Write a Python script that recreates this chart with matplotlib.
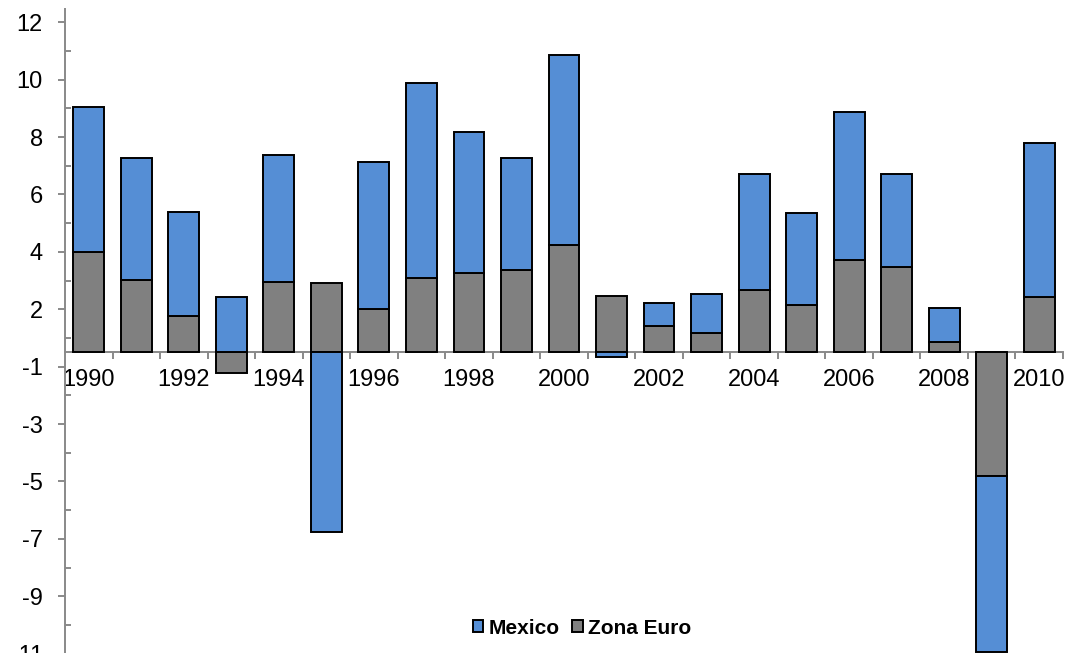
import numpy as np
import matplotlib.pyplot as plt

plt.rcParams["font.family"] = ["Liberation Sans", "DejaVu Sans"]

# GDP growth (%), Mexico and euro area, 1990-2010
years = list(range(1990, 2011))
euro = [3.50, 2.53, 1.28, -0.73, 2.44, 2.40, 1.52, 2.58, 2.77, 2.88, 3.75,
        1.96, 0.91, 0.68, 2.17, 1.66, 3.23, 2.98, 0.37, -4.30, 1.93]
mexico = [5.06, 4.23, 3.62, 1.94, 4.43, -6.25, 5.12, 6.79, 4.92, 3.88, 6.61,
          -0.15, 0.81, 1.35, 4.05, 3.19, 5.14, 3.24, 1.18, -6.13, 5.37]

# y-axis labels as printed on the chart
ytick_pos = [11.5, 9.5, 7.5, 5.5, 3.5, 1.5, -0.5, -2.5, -4.5, -6.5, -8.5, -10.5]
ytick_text = ["12", "10", "8", "6", "4", "2", "-1", "-3", "-5", "-7", "-9", "-11"]

blue = "#558ed5"
grey = "#808080"
axis_grey = "#898989"

x = np.arange(len(years))
euro = np.array(euro)
mexico = np.array(mexico)
# positive and negative parts stack separately
mex_bottom = np.where(np.sign(mexico) == np.sign(euro), euro, 0)

fig = plt.figure(figsize=(10.69, 6.53), dpi=100)
ax = fig.add_axes([65 / 1069, -15 / 653, 998 / 1069, 659 / 653])

b1 = ax.bar(x, euro, width=0.65, color=grey, edgecolor="black", linewidth=1.4, zorder=2)
b2 = ax.bar(x, mexico, width=0.65, bottom=mex_bottom, color=blue,
            edgecolor="black", linewidth=1.4, zorder=2)

ax.set_xlim(-0.5, len(years) - 0.5)
ax.set_ylim(-11, 11.96)

for s in ["top", "right"]:
    ax.spines[s].set_visible(False)
ax.spines["bottom"].set_position(("data", 0))
for s in ["left", "bottom"]:
    ax.spines[s].set_color(axis_grey)
    ax.spines[s].set_linewidth(1.4)
ax.spines["bottom"].set_zorder(1)

# y axis
ax.set_yticks(ytick_pos, ytick_text, fontsize=17)
ax.set_yticks([p - 1 for p in ytick_pos[:-1]], minor=True)
ax.tick_params(axis="y", which="major", direction="out", length=5, width=1.4,
               color=axis_grey, pad=11)
ax.tick_params(axis="y", which="minor", direction="in", length=4, width=1.4,
               color=axis_grey)

# x axis: marks between categories, labels every other year
ax.set_xticks(np.arange(0.5, len(years) + 0.5), [""] * len(years))
ax.set_xticks(x[::2], [str(y) for y in years[::2]], minor=True, fontsize=17)
ax.tick_params(axis="x", which="major", direction="out", length=5, width=1.4,
               color=axis_grey)
ax.tick_params(axis="x", which="minor", length=0, pad=12)

fig.legend([b2, b1], ["Mexico", "Zona Euro"], loc="center",
           bbox_to_anchor=(582 / 1069, 1 - 628 / 653), ncol=2, frameon=False,
           prop={"weight": "bold", "size": 15}, handlelength=0.5,
           handleheight=0.5, handletextpad=0.25, columnspacing=0.6)

fig.savefig("out.png", dpi=100)
